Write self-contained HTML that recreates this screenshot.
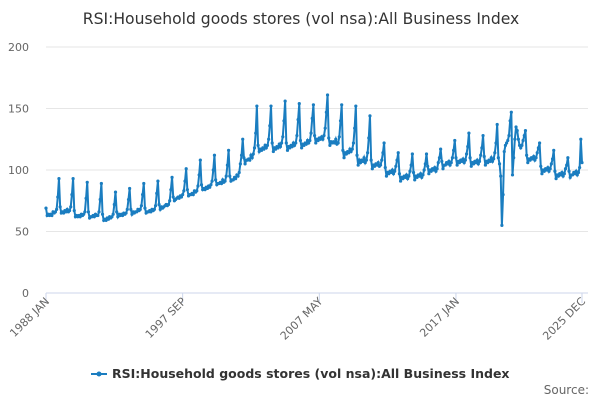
<!DOCTYPE html>
<html><head><meta charset="utf-8"><style>
body{margin:0;background:#fff;font-family:"Liberation Sans",sans-serif}
svg text{font-family:"DejaVu Sans","Liberation Sans",sans-serif}
</style></head><body>
<svg id="chart" width="600" height="400">
<text x="301" y="24" text-anchor="middle" font-size="15.6" fill="#333">RSI:Household goods stores (vol nsa):All Business Index</text>
<g id="grid"></g><g id="series"></g><g id="xlabels"></g>
<g>
<line x1="91" y1="374" x2="107" y2="374" stroke="#1a7dc0" stroke-width="2"/>
<circle cx="99" cy="374" r="2.5" fill="#1a7dc0"/>
<text x="112" y="378" font-size="12.5" font-weight="bold" fill="#333">RSI:Household goods stores (vol nsa):All Business Index</text>
</g>
<text x="589" y="394" text-anchor="end" font-size="12" fill="#666">Source:</text>
</svg>
<script>
const yTicks=[0,50,100,150,200];
const xTickLabels=["1988 JAN","1997 SEP","2007 MAY","2017 JAN","2025 DEC"];
const xTickIndex=[0,116,232,348,455];
const values=[
69,63,64,63,64,63,66,65,66,68,78,93,
70,65,66,65,67,66,68,66,67,70,80,93,
67,62,63,62,63,62,64,63,64,66,77,90,
66,61,62,62,63,62,64,63,63,66,76,89,
64,59,60,59,61,60,62,61,62,64,72,82,
66,62,64,63,64,63,65,64,65,68,76,85,
68,64,66,65,66,66,68,67,68,71,80,89,
69,65,66,66,67,66,68,67,68,71,81,91,
72,68,70,69,70,71,72,71,72,75,84,94,
78,75,76,77,78,77,79,78,80,83,91,101,
84,79,80,80,81,80,83,82,83,87,96,108,
88,84,85,84,86,85,87,86,88,91,100,112,
92,88,89,89,90,89,92,90,91,95,104,116,
95,91,92,92,94,93,96,95,98,105,112,125,
110,105,108,108,109,108,112,110,113,118,130,152,
120,115,117,116,118,117,120,118,120,125,136,152,
122,115,118,117,119,118,121,119,122,127,140,156,
122,116,119,118,120,119,122,120,122,128,141,154,
124,118,121,120,122,121,124,122,124,130,142,153,
128,122,125,124,126,125,127,125,128,134,147,161,
126,120,123,122,123,122,125,121,122,127,140,153,
116,110,114,113,115,114,117,115,117,122,134,152,
112,104,108,106,108,107,110,106,108,114,126,144,
108,101,104,103,105,104,106,103,104,108,114,122,
102,95,98,97,99,98,100,97,99,103,108,114,
97,91,94,93,95,94,96,93,95,99,104,113,
98,92,95,94,96,95,97,94,96,100,105,113,
103,97,100,99,101,100,102,99,101,106,110,117,
107,101,104,104,106,105,107,104,106,110,116,124,
110,104,107,106,108,107,109,106,108,113,119,130,
110,103,106,105,107,106,108,105,107,112,118,128,
111,104,107,106,108,107,110,107,109,114,122,137,
110,105,95,55,80,115,120,122,124,128,140,147,
96,110,125,135,132,125,120,118,120,124,128,132,
112,106,109,108,110,109,111,108,110,114,118,122,
103,97,100,99,101,100,102,99,101,105,109,116,
99,93,96,95,97,96,98,95,97,101,104,110,
99,94,96,96,98,97,99,96,98,102,125,106];
const NS="http://www.w3.org/2000/svg";
const X0=46,X1=582,Y0=293,Y1=47;
function xs(i){return X0+i*(X1-X0)/(values.length-1);}
function ys(v){return Y0-v*(Y0-Y1)/200;}
const grid=document.getElementById('grid');
yTicks.forEach(t=>{
 const l=document.createElementNS(NS,'line');
 l.setAttribute('x1',X0);l.setAttribute('x2',X1+6);l.setAttribute('y1',ys(t));l.setAttribute('y2',ys(t));
 l.setAttribute('stroke',t===0?'#ccd6eb':'#e6e6e6');l.setAttribute('stroke-width',1);
 
 
 grid.appendChild(l);
 const tx=document.createElementNS(NS,'text');
 tx.setAttribute('x',29);tx.setAttribute('y',ys(t)+4);tx.setAttribute('text-anchor','end');
 tx.setAttribute('font-size','11');tx.setAttribute('fill','#666');tx.textContent=t;
 
 
 grid.appendChild(tx);
});
const xl=document.getElementById('xlabels');
xTickIndex.forEach((idx,k)=>{
 const x=xs(idx);
 const tk=document.createElementNS(NS,'line');
 tk.setAttribute('x1',x);tk.setAttribute('x2',x);tk.setAttribute('y1',293);tk.setAttribute('y2',303);
 tk.setAttribute('stroke','#ccd6eb');
 
 
 xl.appendChild(tk);
 const tx=document.createElementNS(NS,'text');
 tx.setAttribute('x',x+4);tx.setAttribute('y',302);tx.setAttribute('text-anchor','end');
 tx.setAttribute('font-size','11');tx.setAttribute('fill','#666');
 tx.setAttribute('transform','rotate(-45 '+(x+4)+' 302)');
 tx.textContent=xTickLabels[k];
 
 
 xl.appendChild(tx);
});
const s=document.getElementById('series');
const p=document.createElementNS(NS,'path');
p.setAttribute('d',values.map((v,i)=>(i?'L':'M')+xs(i).toFixed(2)+' '+ys(v).toFixed(2)).join(''));
p.setAttribute('fill','none');p.setAttribute('stroke','#1a7dc0');p.setAttribute('stroke-width','2');


s.appendChild(p);
values.forEach((v,i)=>{
 const c=document.createElementNS(NS,'circle');
 c.setAttribute('cx',xs(i));c.setAttribute('cy',ys(v));c.setAttribute('r',1.6);c.setAttribute('fill','#1a7dc0');
 
 
 s.appendChild(c);
});
</script>
</body></html>
